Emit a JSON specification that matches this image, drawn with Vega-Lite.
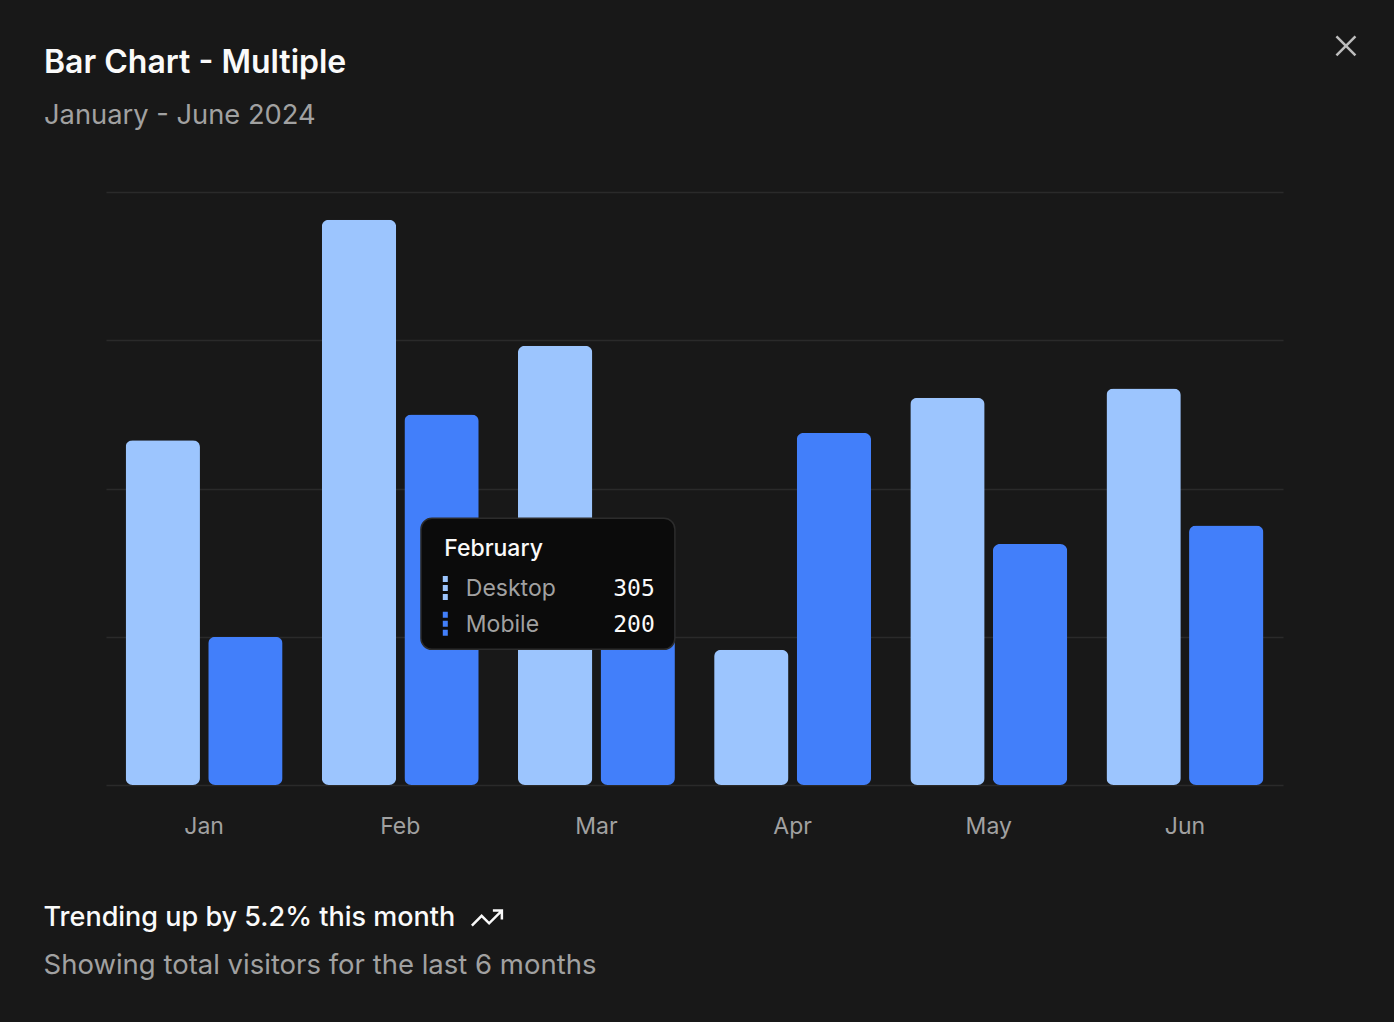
{
  "$schema": "https://vega.github.io/schema/vega-lite/v6.json",
  "width": 1177,
  "height": 593,
  "autosize": {"type": "none"},
  "padding": {"left": 106, "top": 192, "right": 111, "bottom": 237},
  "background": "#181818",
  "config": {"view": {"stroke": null}, "font": "Inter"},
  "title": {
    "text": "Bar Chart - Multiple",
    "subtitle": "January - June 2024",
    "anchor": "start",
    "frame": "group",
    "dx": -62,
    "fontSize": 32,
    "fontWeight": 600,
    "color": "#fafafa",
    "subtitleFontSize": 27.3,
    "subtitleFontWeight": 400,
    "subtitleColor": "#a1a1a1",
    "subtitlePadding": 22,
    "offset": -99
  },
  "data": {
    "values": [
      {"month": "Jan", "series": "Desktop", "visitors": 186},
      {"month": "Jan", "series": "Mobile", "visitors": 80},
      {"month": "Feb", "series": "Desktop", "visitors": 305},
      {"month": "Feb", "series": "Mobile", "visitors": 200},
      {"month": "Mar", "series": "Desktop", "visitors": 237},
      {"month": "Mar", "series": "Mobile", "visitors": 120},
      {"month": "Apr", "series": "Desktop", "visitors": 73},
      {"month": "Apr", "series": "Mobile", "visitors": 190},
      {"month": "May", "series": "Desktop", "visitors": 209},
      {"month": "May", "series": "Mobile", "visitors": 130},
      {"month": "Jun", "series": "Desktop", "visitors": 214},
      {"month": "Jun", "series": "Mobile", "visitors": 140}
    ]
  },
  "layer": [
    {
      "mark": {"type": "bar", "cornerRadius": 7},
      "encoding": {
        "x": {
          "field": "month",
          "type": "nominal",
          "sort": ["Jan", "Feb", "Mar", "Apr", "May", "Jun"],
          "scale": {"paddingInner": 0.2, "paddingOuter": 0.1},
          "axis": {
            "domain": false,
            "ticks": false,
            "tickSize": 0,
            "labelAngle": 0,
            "labelFontSize": 23,
            "labelColor": "#a1a1a1",
            "labelBaseline": "middle",
            "labelPadding": 41,
            "title": "Trending up by 5.2% this month",
            "titleX": -63,
            "titleY": 132,
            "titleAlign": "left",
            "titleAnchor": "start",
            "titleBaseline": "middle",
            "titleFontSize": 27,
            "titleFontWeight": 500,
            "titleColor": "#fafafa"
          }
        },
        "xOffset": {
          "field": "series",
          "type": "nominal",
          "sort": ["Desktop", "Mobile"],
          "scale": {"paddingInner": 0.1, "paddingOuter": 0}
        },
        "y": {
          "field": "visitors",
          "type": "quantitative",
          "scale": {"domain": [0, 320], "nice": false},
          "axis": {
            "domain": false,
            "ticks": false,
            "labels": false,
            "grid": true,
            "gridColor": "#2a2a2a",
            "gridWidth": 1.5,
            "values": [0, 80, 160, 240, 320],
            "title": "Showing total visitors for the last 6 months",
            "titleAngle": 0,
            "titleX": -63,
            "titleY": 773,
            "titleAlign": "left",
            "titleBaseline": "middle",
            "titleFontSize": 27.5,
            "titleFontWeight": 400,
            "titleColor": "#a1a1a1"
          }
        },
        "color": {
          "field": "series",
          "type": "nominal",
          "scale": {"domain": ["Desktop", "Mobile"], "range": ["#9cc5fe", "#427ffa"]},
          "legend": null
        }
      }
    },
    {
      "mark": {"type": "rect", "cornerRadius": 11, "fill": "#0b0b0b", "stroke": "#2c2c2c", "strokeWidth": 1.5},
      "transform": [{"filter": "datum.month == 'Feb' && datum.series == 'Desktop'"}],
      "encoding": {
        "x": {"datum": "Feb", "type": "nominal", "bandPosition": 0.632},
        "x2": {"datum": "Mar", "bandPosition": 1.0},
        "y": {"datum": 143.9, "type": "quantitative"},
        "y2": {"datum": 73.2}
      }
    },
    {
      "mark": {"type": "text", "text": "February", "align": "left", "baseline": "middle", "fontSize": 23, "fontWeight": 500, "color": "#fafafa"},
      "transform": [{"filter": "datum.month == 'Feb' && datum.series == 'Desktop'"}],
      "encoding": {
        "x": {"datum": "Feb", "type": "nominal", "bandPosition": 0.78},
        "y": {"datum": 127.3, "type": "quantitative"}
      }
    },
    {
      "mark": {"type": "text", "align": "left", "baseline": "middle", "fontSize": 23, "fontWeight": 400, "color": "#a1a1a1"},
      "transform": [{"filter": "datum.month == 'Feb'"}, {"filter": "datum.series == 'Desktop'"}],
      "encoding": {
        "x": {"datum": "Feb", "type": "nominal", "bandPosition": 0.918},
        "y": {"datum": 105.8, "type": "quantitative"},
        "text": {"field": "series"}
      }
    },
    {
      "mark": {"type": "text", "align": "left", "baseline": "middle", "fontSize": 23, "fontWeight": 400, "color": "#a1a1a1"},
      "transform": [{"filter": "datum.month == 'Feb'"}, {"filter": "datum.series == 'Mobile'"}],
      "encoding": {
        "x": {"datum": "Feb", "type": "nominal", "bandPosition": 0.918},
        "y": {"datum": 86.4, "type": "quantitative"},
        "text": {"field": "series"}
      }
    },
    {
      "mark": {"type": "text", "align": "right", "baseline": "middle", "fontSize": 23, "font": "DejaVu Sans Mono", "color": "#fafafa"},
      "transform": [{"filter": "datum.month == 'Feb'"}, {"filter": "datum.series == 'Desktop'"}],
      "encoding": {
        "x": {"datum": "Mar", "type": "nominal", "bandPosition": 0.872},
        "y": {"datum": 105.8, "type": "quantitative"},
        "text": {"field": "visitors"}
      }
    },
    {
      "mark": {"type": "text", "align": "right", "baseline": "middle", "fontSize": 23, "font": "DejaVu Sans Mono", "color": "#fafafa"},
      "transform": [{"filter": "datum.month == 'Feb'"}, {"filter": "datum.series == 'Mobile'"}],
      "encoding": {
        "x": {"datum": "Mar", "type": "nominal", "bandPosition": 0.872},
        "y": {"datum": 86.4, "type": "quantitative"},
        "text": {"field": "visitors"}
      }
    },
    {
      "mark": {"type": "rule", "strokeWidth": 5, "strokeDash": [6, 3], "strokeCap": "butt", "color": "#9cc5fe"},
      "transform": [{"filter": "datum.month == 'Feb' && datum.series == 'Desktop'"}],
      "encoding": {
        "x": {"datum": "Feb", "type": "nominal", "bandPosition": 0.787},
        "y": {"datum": 112.8, "type": "quantitative"},
        "y2": {"datum": 99.8}
      }
    },
    {
      "mark": {"type": "rule", "strokeWidth": 5, "strokeDash": [6, 3], "strokeCap": "butt", "color": "#427ffa"},
      "transform": [{"filter": "datum.month == 'Feb' && datum.series == 'Mobile'"}],
      "encoding": {
        "x": {"datum": "Feb", "type": "nominal", "bandPosition": 0.787},
        "y": {"datum": 93.5, "type": "quantitative"},
        "y2": {"datum": 80.4}
      }
    },
    {
      "mark": {"type": "point", "shape": "M-1,0.5L-0.35,-0.15L0.15,0.35L1,-0.5M0.4,-0.5L1,-0.5L1,0.1", "filled": false, "size": 900, "stroke": "#fafafa", "strokeWidth": 2.5, "opacity": 1},
      "transform": [{"filter": "datum.month == 'Feb' && datum.series == 'Desktop'"}],
      "encoding": {
        "x": {"datum": "Jan", "type": "nominal", "bandPosition": 2.302},
        "y": {"datum": -71.8, "type": "quantitative"}
      }
    },
    {
      "mark": {"type": "point", "shape": "M-1,-1L1,1M1,-1L-1,1", "filled": false, "size": 361, "stroke": "#bdbdbd", "strokeWidth": 2.5, "opacity": 1},
      "transform": [{"filter": "datum.month == 'Feb' && datum.series == 'Desktop'"}],
      "encoding": {
        "x": {"datum": "Jun", "type": "nominal", "bandPosition": 1.526},
        "y": {"datum": 398.8, "type": "quantitative"}
      }
    }
  ]
}
